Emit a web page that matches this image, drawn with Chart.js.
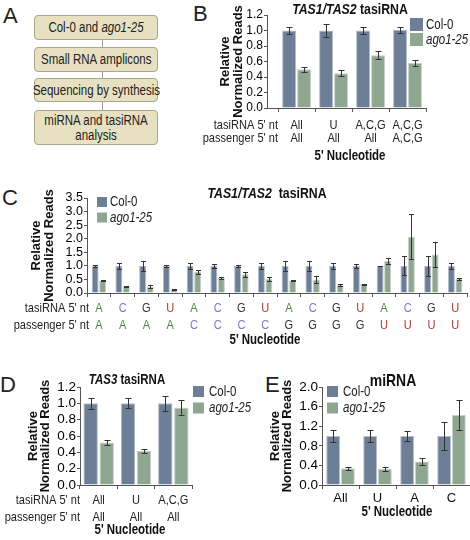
<!DOCTYPE html>
<html>
<head>
<meta charset="utf-8">
<script src="https://cdn.jsdelivr.net/npm/chart.js@4.4.1/dist/chart.umd.min.js"></script>
<style>
    body { margin: 0; background: #fff; width: 470px; height: 540px; position: relative; overflow: hidden;
           font-family: 'Liberation Sans', Arial, sans-serif; color: #222; }
    .box { position: absolute; left: 34px; width: 124px; box-sizing: border-box; background: #e7e1c1;
           border: 1px solid #aca68c; border-radius: 4px; text-align: center; font-size: 14px; line-height: 15px;
           display: flex; align-items: center; justify-content: center; }
    .box span { display: inline-block; white-space: nowrap; transform: scaleX(0.82); }
    .link { position: absolute; left: 102px; width: 1px; background: #9a9a9a; }
    .letter { position: absolute; font-size: 22px; line-height: 22px; }
    canvas { position: absolute; }
</style>
</head>
<body>
<div class="letter" style="left:3px;top:5px">A</div>
<div class="letter" style="left:193px;top:3px">B</div>
<div class="letter" style="left:2px;top:187px">C</div>
<div class="letter" style="left:0px;top:374px">D</div>
<div class="letter" style="left:265px;top:374px">E</div>

<div class="box" style="top:15px;height:25px"><span>Col-0 and <i>ago1-25</i></span></div>
<div class="link" style="top:40px;height:7px"></div>
<div class="box" style="top:47px;height:25px"><span>Small RNA amplicons</span></div>
<div class="link" style="top:72px;height:6px"></div>
<div class="box" style="top:78px;height:24px"><span>Sequencing by synthesis</span></div>
<div class="link" style="top:102px;height:8px"></div>
<div class="box" style="top:110px;height:35px"><span>miRNA and tasiRNA<br>analysis</span></div>

<canvas id="chartB" width="310" height="170" style="left:160px;top:0px"></canvas>
<canvas id="chartC" width="470" height="175" style="left:0px;top:175px"></canvas>
<canvas id="chartD" width="262" height="170" style="left:0px;top:370px"></canvas>
<canvas id="chartE" width="208" height="170" style="left:262px;top:370px"></canvas>

<script>
const FONT = "'Liberation Sans', Arial, sans-serif";
const NARROW = 0.82; // squeeze to look like a narrow face
Chart.defaults.font.family = FONT;
Chart.defaults.color = '#111';

const COL_COLOR = '#6d7e97';
const AGO_COLOR = '#8fa690';
const NT_COLORS = { A: '#4f8a3f', C: '#7d79c2', G: '#333333', U: '#a0402c' };

// Panel B - TAS1/TAS2 tasiRNA
const bTasi = ['All', 'U', 'A,C,G', 'A,C,G'];
const bPass = ['All', 'All', 'All', 'A,C,G'];
const bCol = [1.0, 1.0, 1.0, 1.01];
const bColErr = [0.05, 0.08, 0.04, 0.04];
const bAgo = [0.50, 0.45, 0.68, 0.58];
const bAgoErr = [0.03, 0.035, 0.05, 0.04];
const bTicks = [0, 0.2, 0.4, 0.6, 0.8, 1.0, 1.2];

// Panel C - TAS1/TAS2 tasiRNA by nucleotide pair
const cTasi = ['A', 'C', 'G', 'U', 'A', 'C', 'G', 'U', 'A', 'C', 'G', 'U', 'A', 'C', 'G', 'U'];
const cPass = ['A', 'A', 'A', 'A', 'C', 'C', 'C', 'C', 'G', 'G', 'G', 'G', 'U', 'U', 'U', 'U'];
const cCol = [1, 1, 1, 1, 1, 1, 1, 1, 1, 1, 1, 1, 1, 1, 1, 1];
const cColErr = [0.04, 0.12, 0.18, 0.05, 0.12, 0.07, 0.03, 0.10, 0.18, 0.18, 0.10, 0.08, 0.01, 0.35, 0.38, 0.10];
const cAgo = [0.45, 0.24, 0.23, 0.13, 0.78, 0.55, 0.69, 0.52, 0.46, 0.50, 0.30, 0.33, 1.18, 2.07, 1.42, 0.53];
const cAgoErr = [0.02, 0.03, 0.05, 0.02, 0.07, 0.04, 0.10, 0.06, 0.03, 0.13, 0.03, 0.02, 0.10, 0.83, 0.47, 0.04];
const cTicks = [0, 0.5, 1.0, 1.5, 2.0, 2.5, 3.0, 3.5];

// Panel D - TAS3 tasiRNA
const dTasi = ['All', 'U', 'A,C,G'];
const dPass = ['All', 'All', 'All'];
const dCol = [1.0, 1.0, 1.0];
const dColErr = [0.07, 0.06, 0.09];
const dAgo = [0.52, 0.42, 0.95];
const dAgoErr = [0.03, 0.025, 0.09];
const dTicks = [0, 0.2, 0.4, 0.6, 0.8, 1.0, 1.2];

// Panel E - miRNA
const eNt = ['All', 'U', 'A', 'C'];
const eCol = [1.0, 1.0, 1.0, 1.0];
const eColErr = [0.12, 0.12, 0.11, 0.28];
const eAgo = [0.34, 0.33, 0.48, 1.43];
const eAgoErr = [0.035, 0.035, 0.07, 0.31];
const eTicks = [0, 0.4, 0.8, 1.2, 1.6, 2.0];

// narrow text helper
function say(ctx, str, x, y, align, font, color) {
    ctx.save();
    ctx.font = font;
    ctx.fillStyle = color;
    ctx.textAlign = align;
    ctx.textBaseline = 'middle';
    ctx.translate(x, y);
    ctx.scale(NARROW, 1);
    ctx.fillText(str, 0, 0);
    ctx.restore();
}

function drawPieces(ctx, pieces, cx, cy, size) {
    let total = 0;
    pieces.forEach(p => { ctx.font = p.f + ' ' + size + 'px ' + FONT; p.w = ctx.measureText(p.t).width * NARROW; total += p.w; });
    let x = cx - total / 2;
    pieces.forEach(p => { say(ctx, p.t, x, cy, 'left', p.f + ' ' + size + 'px ' + FONT, '#111'); x += p.w; });
}

function annot(spec) {
    const bx = spec.box[0], by = spec.box[1];
    return {
        id: 'annot',
        afterDatasetsDraw(chart) {
            const ctx = chart.ctx, ys = chart.scales.y;
            ctx.save();
            ctx.strokeStyle = '#333';
            ctx.lineWidth = 1;
            chart.data.datasets.forEach((ds, i) => {
                chart.getDatasetMeta(i).data.forEach((bar, j) => {
                    const v = ds.data[j], e = ds.err[j];
                    const x = Math.round(bar.x) + 0.5;
                    const y1 = Math.round(ys.getPixelForValue(v + e)) + 0.5;
                    const y2 = Math.round(ys.getPixelForValue(v - e)) + 0.5;
                    ctx.beginPath();
                    ctx.moveTo(x, y1); ctx.lineTo(x, y2);
                    ctx.moveTo(x - spec.cap / 2, y1); ctx.lineTo(x + spec.cap / 2, y1);
                    ctx.moveTo(x - spec.cap / 2, y2); ctx.lineTo(x + spec.cap / 2, y2);
                    ctx.stroke();
                });
            });
            ctx.restore();
        },
        afterDraw(chart) {
            const ctx = chart.ctx, xs = chart.scales.x;
            drawPieces(ctx, spec.title, spec.titleX - bx, spec.titleY - by, spec.titleSize);
            say(ctx, "5' Nucleotide", spec.xTitleX - bx, spec.xTitleY - by, 'center', 'bold 14px ' + FONT, '#111');

            // legend
            const lg = spec.legend;
            const names = [['Col-0', ''], ['ago1-25', 'italic']];
            chart.data.datasets.forEach((ds, i) => {
                const top = lg.y - by + i * lg.dy;
                ctx.fillStyle = ds.backgroundColor;
                ctx.fillRect(lg.x - bx, top, lg.size, lg.size);
                say(ctx, names[i][0], lg.tx - bx, top + lg.size / 2 + 0.5, 'left', names[i][1] + ' 14px ' + FONT, '#222');
            });

            // rows of nucleotide labels under the axis
            (spec.rows || []).forEach(row => {
                say(ctx, row.name, spec.rowRight - bx, row.y - by, 'right', '13.5px ' + FONT, '#222');
                row.values.forEach((t, i) => {
                    const c = spec.colorNt ? NT_COLORS[t] : '#222';
                    say(ctx, t, xs.getPixelForValue(i), row.y - by, 'center', '13.5px ' + FONT, c);
                });
            });
        }
    };
}

function makePanel(spec) {
    const [bx, by, bw, bh] = spec.box;
    const [al, at, ar, ab] = spec.area;
    const ticks = spec.yTicks;
    const yPad = spec.yTitleX - bx - spec.yLh / 2;
    new Chart(document.getElementById(spec.id).getContext('2d'), {
        type: 'bar',
        data: {
            labels: spec.labels,
            datasets: [{
                label: 'Col-0',
                data: spec.col,
                err: spec.colErr,
                backgroundColor: COL_COLOR,
                borderColor: '#b4bcc9',
                borderWidth: 1
            }, {
                label: 'ago1-25',
                data: spec.ago,
                err: spec.agoErr,
                backgroundColor: AGO_COLOR,
                borderColor: '#c6d2c6',
                borderWidth: 1
            }]
        },
        options: {
            responsive: false,
            animation: false,
            categoryPercentage: spec.catPct,
            barPercentage: spec.barPct,
            layout: { padding: { left: 0, top: at - by, right: bx + bw - ar, bottom: 0 } },
            plugins: { legend: { display: false }, tooltip: { enabled: false } },
            scales: {
                x: {
                    offset: true,
                    grid: { offset: true, drawOnChartArea: false, drawTicks: true, tickLength: 4, color: '#555' },
                    border: { color: '#555' },
                    ticks: { display: !!spec.xLabels, font: { size: 13 }, color: '#111', padding: 2 },
                    afterBuildTicks: s => { s._startValue -= spec.shiftL; s._valueRange += spec.shiftL; },
                    afterFit: s => { s.height = bh - (ab - by); s.paddingLeft = 0; s.paddingRight = 0; }
                },
                y: {
                    min: ticks[0],
                    max: ticks[ticks.length - 1],
                    ticks: {
                        stepSize: ticks[1] - ticks[0], autoSkip: false, callback: v => v.toFixed(1),
                        font: { size: spec.tickSize }, padding: 1, color: '#000'
                    },
                    grid: { drawOnChartArea: false, tickLength: 3, color: '#555' },
                    border: { color: '#555' },
                    title: {
                        display: true, text: ['Relative', 'Normalized Reads'], color: '#111',
                        font: { size: 13, weight: 'bold', lineHeight: spec.yLh + 'px' },
                        padding: { top: yPad, bottom: 0 }
                    },
                    afterFit: s => { s.width = al - bx; s.paddingTop = 0; s.paddingBottom = 0; }
                }
            }
        },
        plugins: [annot(spec)]
    });
}

makePanel({
    id: 'chartB', box: [160, 0, 310, 170], area: [267, 15, 426, 108], shiftL: 0.3,
    labels: bTasi, col: bCol, colErr: bColErr, ago: bAgo, agoErr: bAgoErr, yTicks: bTicks, tickSize: 12,
    catPct: 0.81, barPct: 0.93, cap: 6,
    yTitleX: 225, yLh: 13, xTitleX: 350, xTitleY: 156,
    title: [{ t: 'TAS1/TAS2', f: 'italic bold' }, { t: ' tasiRNA', f: 'bold' }], titleX: 350, titleY: 10, titleSize: 15,
    legend: { x: 410, y: 18, dy: 15, size: 13, tx: 426 },
    rowRight: 278,
    rows: [{ name: "tasiRNA 5' nt", y: 125, values: bTasi }, { name: "passenger 5' nt", y: 138, values: bPass }]
});

makePanel({
    id: 'chartC', box: [0, 175, 470, 175], area: [87, 198, 467, 293], shiftL: 0,
    labels: cTasi.map((t, i) => t + cPass[i]), col: cCol, colErr: cColErr, ago: cAgo, agoErr: cAgoErr, yTicks: cTicks, tickSize: 12.5,
    catPct: 0.63, barPct: 0.93, cap: 5,
    yTitleX: 36, yLh: 13, xTitleX: 265, xTitleY: 340,
    title: [{ t: 'TAS1/TAS2', f: 'italic bold' }, { t: '  tasiRNA', f: 'bold' }], titleX: 267, titleY: 194, titleSize: 15,
    legend: { x: 97, y: 197, dy: 15.5, size: 10, tx: 110 },
    rowRight: 89, colorNt: true,
    rows: [{ name: "tasiRNA 5' nt", y: 308, values: cTasi }, { name: "passenger 5' nt", y: 325, values: cPass }]
});

makePanel({
    id: 'chartD', box: [0, 370, 262, 170], area: [80, 387, 192, 485], shiftL: 0,
    labels: dTasi, col: dCol, colErr: dColErr, ago: dAgo, agoErr: dAgoErr, yTicks: dTicks, tickSize: 13.5,
    catPct: 0.86, barPct: 0.9, cap: 6,
    yTitleX: 33, yLh: 12.5, xTitleX: 130, xTitleY: 530,
    title: [{ t: 'TAS3', f: 'italic bold' }, { t: ' tasiRNA', f: 'bold' }], titleX: 127, titleY: 380, titleSize: 14,
    legend: { x: 193, y: 386, dy: 16.5, size: 11, tx: 209 },
    rowRight: 80,
    rows: [{ name: "tasiRNA 5' nt", y: 500, values: dTasi }, { name: "passenger 5' nt", y: 517, values: dPass }]
});

makePanel({
    id: 'chartE', box: [262, 370, 208, 170], area: [322, 387, 470, 485], shiftL: 0,
    labels: eNt, xLabels: true, col: eCol, colErr: eColErr, ago: eAgo, agoErr: eAgoErr, yTicks: eTicks, tickSize: 13.5,
    catPct: 0.8, barPct: 0.93, cap: 6,
    yTitleX: 275, yLh: 12, xTitleX: 397, xTitleY: 512,
    title: [{ t: 'miRNA', f: 'bold' }], titleX: 393, titleY: 381, titleSize: 17,
    legend: { x: 327, y: 386, dy: 16.5, size: 11, tx: 343 },
    rows: []
});
</script>
</body>
</html>
